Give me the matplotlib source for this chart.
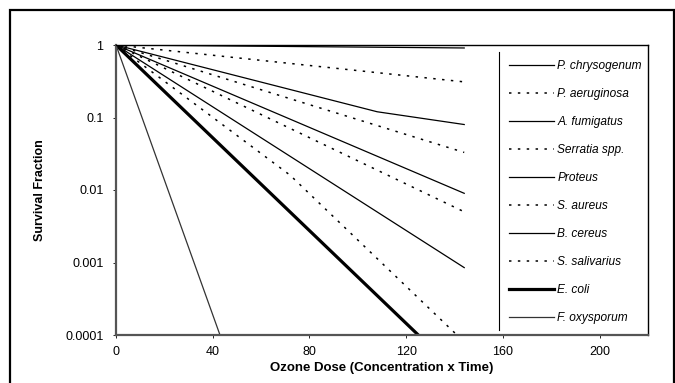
import matplotlib.pyplot as plt
from matplotlib.patches import Rectangle

plt.rcParams['font.family'] = ['Liberation Sans', 'DejaVu Sans']

# survival curves: (dose, fraction) per organism
species = ["P. chrysogenum", "P. aeruginosa", "A. fumigatus", "Serratia spp.",
           "Proteus", "S. aureus", "B. cereus", "S. salivarius", "E. coli",
           "F. oxysporum"]
doses = [
    [0, 144],
    [0, 144],
    [0, 108, 144],
    [0, 144],
    [0, 144],
    [0, 144],
    [0, 144],
    [0, 72, 141],
    [0, 125],
    [0, 43],
]
fractions = [
    [1, 0.91],
    [1, 0.31],
    [1, 0.12, 0.08],
    [1, 0.033],
    [1, 0.009],
    [1, 0.005],
    [1, 0.00085],
    [1, 0.016, 0.0001],
    [1, 0.0001],
    [1, 0.0001],
]

x_ticks = [0, 40, 80, 120, 160, 200]
y_ticks = [1, 0.1, 0.01, 0.001, 0.0001]
y_labels = ["1", "0.1", "0.01", "0.001", "0.0001"]

dotted = (0, (1.6, 4.2))
styles = [
    dict(color="black", lw=0.9, ls="-"),
    dict(color="black", lw=1.1, ls=dotted),
    dict(color="black", lw=0.9, ls="-"),
    dict(color="black", lw=1.1, ls=dotted),
    dict(color="black", lw=0.9, ls="-"),
    dict(color="black", lw=1.1, ls=dotted),
    dict(color="black", lw=0.9, ls="-"),
    dict(color="black", lw=1.1, ls=dotted),
    dict(color="black", lw=2.3, ls="-"),
    dict(color="#333333", lw=0.9, ls="-"),
]

fig = plt.figure(figsize=(6.75, 3.83), dpi=100)
ax = fig.add_axes([116 / 675, 1 - 335 / 383, (648 - 116) / 675, (335 - 45) / 383])

for name, x, y, st in zip(species, doses, fractions, styles):
    ax.plot(x, y, label=name, **st)

ax.set_yscale("log")
ax.set_ylim(1e-4, 1)
ax.set_xlim(0, 220)
ax.set_xticks(x_ticks)
ax.set_yticks(y_ticks)
ax.set_yticklabels(y_labels)
ax.minorticks_off()
ax.tick_params(axis="both", length=2, width=0.6, labelsize=9, colors="black")
ax.tick_params(axis="y", pad=7)
ax.tick_params(axis="x", pad=6)

for side in ["left", "bottom"]:
    ax.spines[side].set_color("#555555")
    ax.spines[side].set_linewidth(1.6)
for side in ["top", "right"]:
    ax.spines[side].set_color("black")
    ax.spines[side].set_linewidth(1.0)

ax.set_xlabel("Ozone Dose (Concentration x Time)", fontsize=9.5, fontweight="bold", labelpad=3)
ax.set_ylabel("Survival Fraction", fontsize=9, fontweight="bold", labelpad=14)

leg = ax.legend(loc="upper left", bbox_to_anchor=(503 / 675, 1 - 54 / 383),
                bbox_transform=fig.transFigure, frameon=False, borderpad=0,
                handlelength=3.8, handletextpad=0.25, labelspacing=1.34,
                prop=dict(size=8.6, style="italic"))

# vertical divider on the left of the legend
ax.plot([499 / 675, 499 / 675], [1 - 52 / 383, 1 - 330 / 383], color="black",
        lw=0.8, transform=fig.transFigure, clip_on=False)

# outer frame around the whole figure
fig.patches.append(Rectangle((10 / 675, -0.02), 1 - 11 / 675, 1 - 10 / 383 + 0.02,
                             transform=fig.transFigure, fill=False,
                             edgecolor="black", lw=1.6))

fig.savefig("out.png", dpi=100)
